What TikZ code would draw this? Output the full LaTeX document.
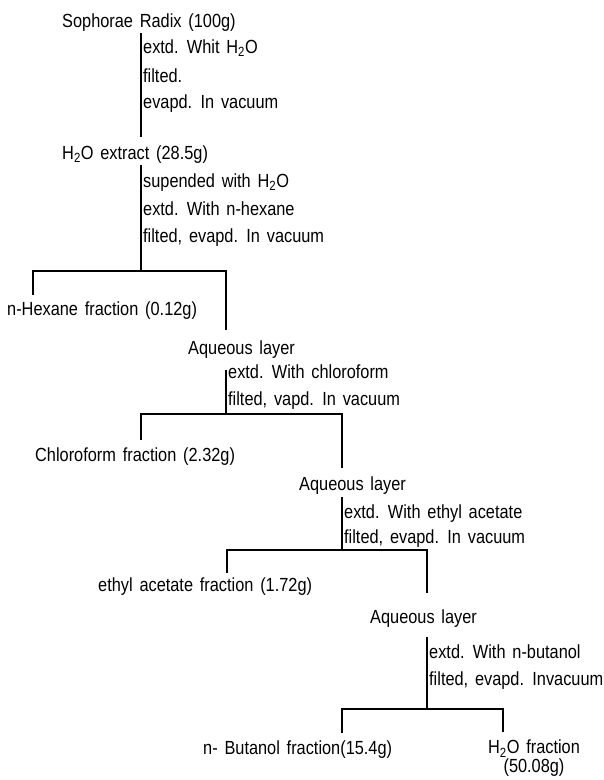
\documentclass[tikz,border=0pt]{standalone}
\usepackage{fontspec}
\setmainfont[FakeStretch=0.86,WordSpace=1.5]{Liberation Sans}

\begin{document}
\begin{tikzpicture}[x=1pt, y=-1pt,
  item/.style={anchor=base west, inner sep=0pt, text height=13pt, text depth=4pt, font=\fontsize{19}{17}\selectfont},
  note/.style={item},
  link/.style={draw, line width=1.4pt}
]
\useasboundingbox (0,0) rectangle (604,780);

% Samples and fractions
\node[item] (src) at (62,27) {Sophorae Radix (100g)};
\node[item] (ext) at (62,159) {H\textsubscript{2}O extract (28.5g)};
\node[item] (hex) at (7,315) {n-Hexane fraction (0.12g)};
\node[item] (aq1) at (188,354) {Aqueous layer};
\node[item] (chl) at (35,461) {Chloroform fraction (2.32g)};
\node[item] (aq2) at (299,490) {Aqueous layer};
\node[item] (eth) at (98,591) {ethyl acetate fraction (1.72g)};
\node[item] (aq3) at (370,623) {Aqueous layer};
\node[item] (but) at (203,754) {n- Butanol fraction(15.4g)};
\node[anchor=north, inner sep=0pt, align=center, font=\fontsize{19}{17}\selectfont] (wat) at (534,740) {H\textsubscript{2}O fraction\\(50.08g)};

% Steps
\node[note] (op1a) at (143,53) {extd. Whit H\textsubscript{2}O};
\node[note] (op1b) at (143,82) {filted.};
\node[note] (op1c) at (143,108) {evapd. In vacuum};
\node[note] (op2a) at (143,187) {supended with H\textsubscript{2}O};
\node[note] (op2b) at (143,215) {extd. With n-hexane};
\node[note] (op2c) at (143,242) {filted, evapd. In vacuum};
\node[note] (op3a) at (228,378) {extd. With chloroform};
\node[note] (op3b) at (228,405) {filted, vapd. In vacuum};
\node[note] (op4a) at (344,518) {extd. With ethyl acetate};
\node[note] (op4b) at (344,543) {filted, evapd. In vacuum};
\node[note] (op5a) at (429,658) {extd. With n-butanol};
\node[note] (op5b) at (429,685) {filted, evapd. Invacuum};

% Split points
\coordinate (j1) at (141,271);
\coordinate (l1) at (33,271);
\coordinate (r1) at (226,271);
\coordinate (j2) at (226,414);
\coordinate (l2) at (141,414);
\coordinate (r2) at (342,414);
\coordinate (j3) at (342,550);
\coordinate (l3) at (227,550);
\coordinate (r3) at (427,550);
\coordinate (j4) at (427,709);
\coordinate (l4) at (342,709);
\coordinate (r4) at (503,709);

% lines
\draw[link, shorten <=2pt, shorten >=9pt] (src.south -| j1) -- (ext.north -| j1);
\draw[link, shorten <=2pt] (ext.south -| j1) -- (j1);
\draw[link, shorten <=7pt, shorten >=11pt] (hex.north -| l1) -- (l1) -- (r1) -- (aq1.north -| r1);
\draw[link, shorten <=12pt] (aq1.south -| j2) -- (j2);
\draw[link, shorten <=8pt, shorten >=9pt] (chl.north -| l2) -- (l2) -- (r2) -- (aq2.north -| r2);
\draw[link, shorten <=3pt] (aq2.south -| j3) -- (j3);
\draw[link, shorten <=5pt, shorten >=17pt] (eth.north -| l3) -- (l3) -- (r3) -- (aq3.north -| r3);
\draw[link, shorten <=10pt] (aq3.south -| j4) -- (j4);
\draw[link, shorten <=8pt, shorten >=8pt] (but.north -| l4) -- (l4) -- (r4) -- (wat.north -| r4);
\end{tikzpicture}
\end{document}
